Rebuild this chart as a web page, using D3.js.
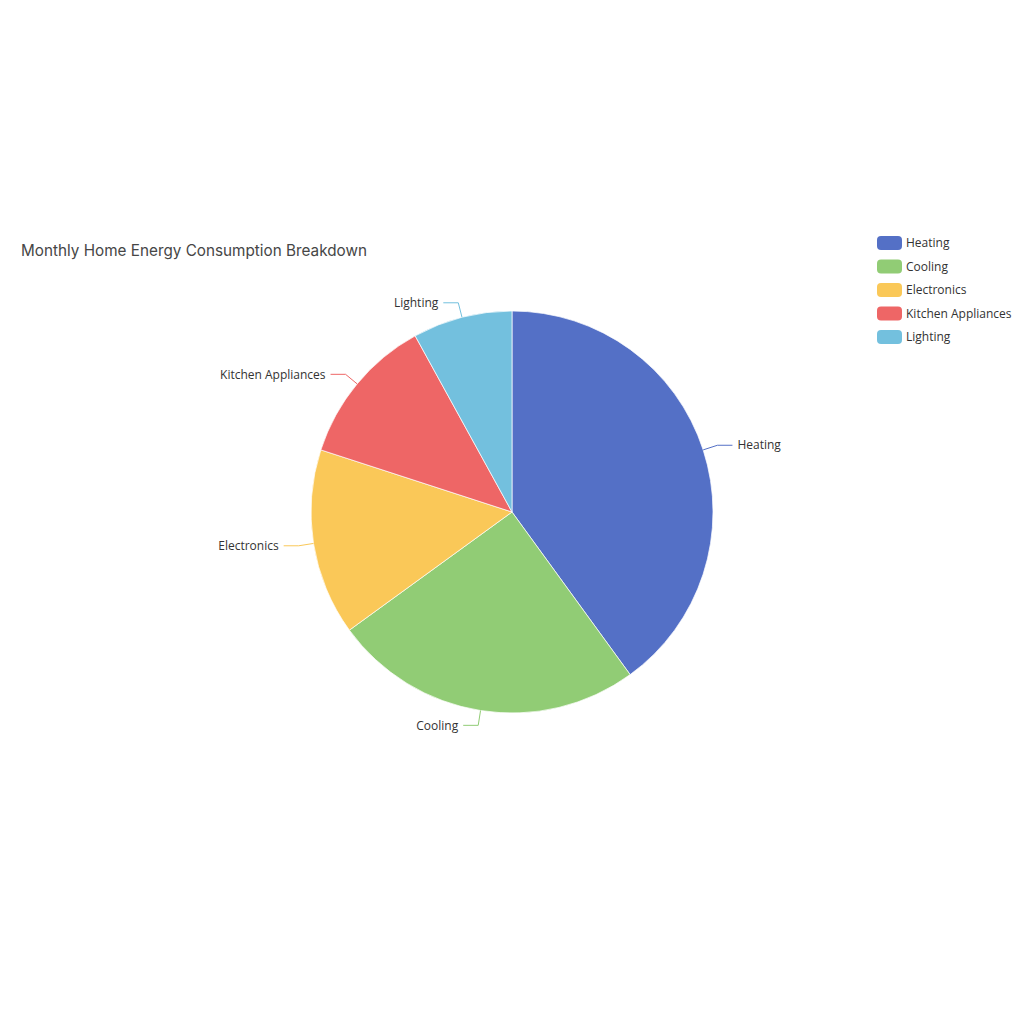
<!DOCTYPE html>
<html><head><meta charset="utf-8">
<script src="https://cdn.jsdelivr.net/npm/d3@7/dist/d3.min.js"></script>
<style>body{margin:0;background:#fff}</style>
</head><body>
<svg id="chart" width="1024" height="1024"></svg>
<script>
const categories = ["Heating","Cooling","Electronics","Kitchen Appliances","Lighting"];
const values = [40,25,15,12,8];
const colors = ["#5470c6","#91cc75","#fac858","#ee6666","#73c0de"];
const titleText = "Monthly Home Energy Consumption Breakdown";

const svg = d3.select("#chart");
const cx = 512, cy = 512, R = 201;
const data = categories.map((c,i)=>({name:c,value:values[i],color:colors[i]}));

svg.append("text").attr("x",21).attr("y",256)
  .attr("font-family","Inter, Lato, sans-serif").attr("font-size",15.5)
  .attr("fill","#464646").attr("textLength",346).attr("lengthAdjust","spacingAndGlyphs")
  .text(titleText);

const pie = d3.pie().value(d=>d.value).sort(null);
const arc = d3.arc().innerRadius(0).outerRadius(R);
const arcs = pie(data);
const g = svg.append("g").attr("transform",`translate(${cx},${cy})`);
g.selectAll("path").data(arcs).join("path")
  .attr("d",arc).attr("fill",d=>d.data.color)
  .attr("stroke","#fff").attr("stroke-width",0.7).attr("stroke-linejoin","round");

const len1 = 15, len2 = 15;
arcs.forEach(d=>{
  const a = (d.startAngle+d.endAngle)/2;
  const sx = Math.sin(a), sy = -Math.cos(a);
  const p0 = [R*sx, R*sy];
  const p1 = [(R+len1)*sx, (R+len1)*sy];
  const right = sx >= 0;
  const p2 = [p1[0] + (right?len2:-len2), p1[1]];
  g.append("polyline").attr("points",[p0,p1,p2].map(p=>p.join(",")).join(" "))
    .attr("fill","none").attr("stroke",d.data.color).attr("stroke-width",1);
  g.append("text").attr("x",p2[0]+(right?5:-5)).attr("y",p2[1])
    .attr("dy","0.35em").attr("text-anchor",right?"start":"end")
    .attr("font-family","'Open Sans', 'Noto Sans', sans-serif").attr("font-size",12)
    .attr("fill","#333").text(d.data.name);
});

const lg = svg.append("g");
data.forEach((d,i)=>{
  const y = 243 + i*23.5;
  lg.append("rect").attr("x",877).attr("y",y-7).attr("width",25).attr("height",14)
    .attr("rx",4).attr("fill",d.color);
  lg.append("text").attr("x",906).attr("y",y).attr("dy","0.35em")
    .attr("font-family","'Open Sans', 'Noto Sans', sans-serif").attr("font-size",12)
    .attr("fill","#333").text(d.name);
});
</script>
</body></html>
